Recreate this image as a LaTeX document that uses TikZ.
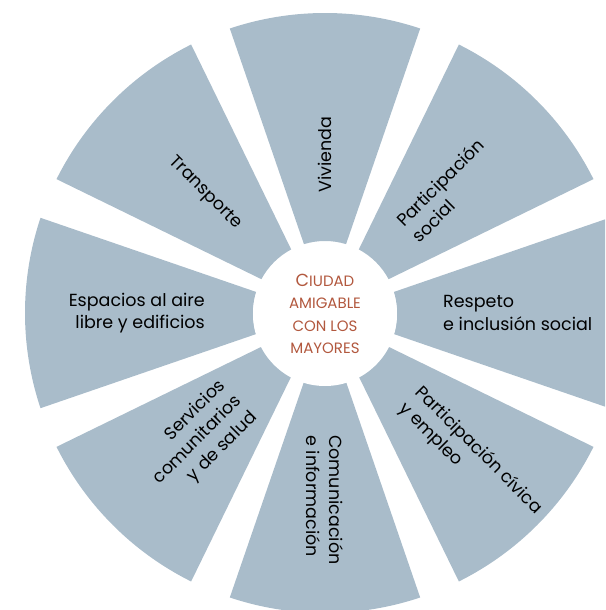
\documentclass[tikz,border=0pt]{standalone}
\usepackage{fontspec}
\setmainfont{Poppins}
\usetikzlibrary{positioning}
\definecolor{wedgeblue}{RGB}{169,188,202}
\definecolor{hubrust}{RGB}{178,88,62}
\tikzset{
    % settore della ruota, centrato sull'asse x
    segment/.pic={
        \fill[wedgeblue] (17:72) -- (18.5:300)
            arc[start angle=18.5, end angle=-18.5, radius=300pt]
            -- (-17:72) arc[start angle=-17, end angle=17, radius=72pt] -- cycle;
    },
    % testo sui settori
    topic/.style={font=\fontsize{17.5}{22.5}\selectfont, inner sep=0pt, text=black},
    % cerchio centrale
    hub/.style={circle, fill=white, minimum size=144pt, inner sep=0pt,
                align=center, text=hubrust,
                font=\fontsize{15}{22.5}\selectfont}
}
\begin{document}
\begin{tikzpicture}[x=1pt,y=1pt]
    \useasboundingbox (-325,-297) rectangle (280,313);
    \clip (-325,-297) rectangle (280,313);
    \pic[rotate=0] {segment};
    \pic[rotate=45] {segment};
    \pic[rotate=90] {segment};
    \pic[rotate=135] {segment};
    \pic[rotate=180] {segment};
    \pic[rotate=225] {segment};
    \pic[rotate=270] {segment};
    \pic[rotate=315] {segment};
    \node[hub] (hub) at (0,-1) {{\fontsize{17.5}{22.5}\selectfont C}IUDAD\\AMIGABLE\\CON LOS\\MAYORES};
    \node[topic, rotate=90, anchor=west] (vivienda) at (90:120) {Vivienda};
    \node[topic, rotate=45, anchor=west, align=left] (social) at (45:116) {Participación\\social};
    \node[topic, anchor=west, align=left] (respeto) at (0:118) {Respeto\\e inclusión social};
    \node[topic, rotate=-45, anchor=west, align=left] (civica) at (-45:120) {Participación cívica\\y empleo};
    \node[topic, rotate=-90, anchor=west, align=left] (comunicacion) at (-90:122) {Comunicación\\e información};
    \node[topic, rotate=45, anchor=east, align=right] (servicios) at (-135:122) {Servicios\\comunitarios\\y de salud};
    \node[topic, anchor=east, align=right] (espacios) at (180:120) {Espacios al aire\\libre y edificios};
    \node[topic, rotate=-45, anchor=east] (transporte) at (135:122) {Transporte};
\end{tikzpicture}
\end{document}
